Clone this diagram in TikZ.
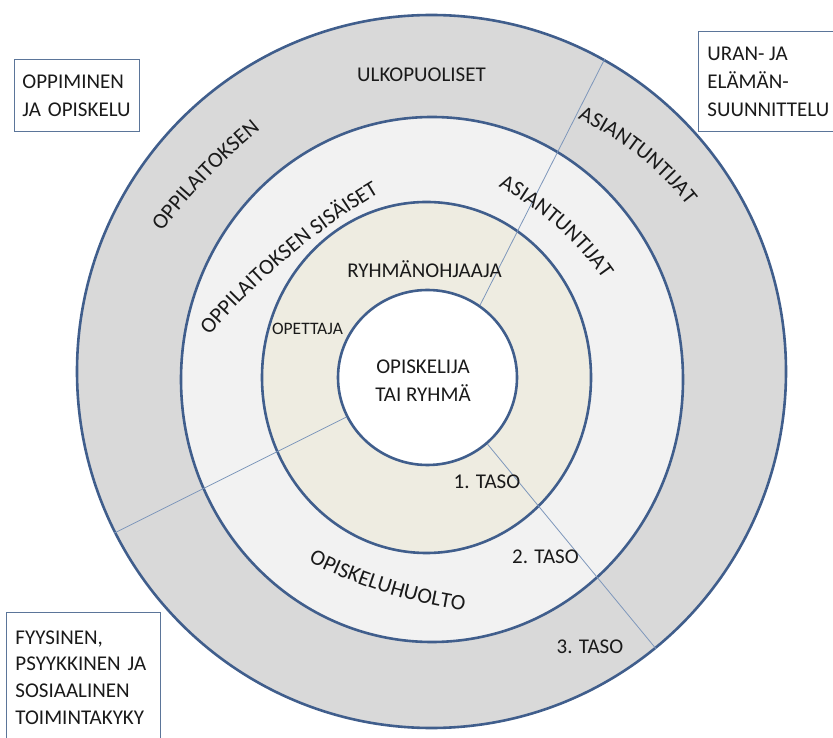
\documentclass[tikz,border=0pt]{standalone}
\usepackage{fontspec}
\setmainfont{Carlito}
\usetikzlibrary{calc, shapes.geometric, decorations.text}
\definecolor{ohline}{HTML}{405E8C}
\definecolor{ohthin}{HTML}{7E97BB}
\definecolor{ohboxline}{HTML}{5B7599}
\definecolor{ohgray}{HTML}{D9D9D9}
\definecolor{ohlight}{HTML}{F2F2F2}
\definecolor{ohbeige}{HTML}{EEECE1}
\definecolor{ohtext}{HTML}{1A1A1A}
\newcommand{\ohfont}{\fontsize{21}{28}\selectfont}
\newcommand{\ohcurvefont}{\fontsize{22}{28}\selectfont}
\tikzset{
  ohring/.style={ellipse, draw=ohline, line width=2.6pt, inner sep=0pt},
  ohdivider/.style={draw=ohthin, line width=0.8pt},
  ohbox/.style={rectangle, draw=ohboxline, line width=0.9pt, fill=white, align=left, anchor=north west, inner xsep=9pt, font=\ohfont, text=ohtext},
  ohlabel/.style={font=\ohfont, text=ohtext, inner sep=0pt, anchor=base},
  ohcurve/.style={decorate, decoration={text along path, text align=center, text={|\ohcurvefont\color{ohtext}|#1}}},
}

\begin{document}
\begin{tikzpicture}[x=1pt, y=1pt]
  \useasboundingbox (0,0) rectangle (833,737);

  % Rings, outermost first.
  \node[ohring, fill=ohgray, minimum width=709pt, minimum height=713pt] (outer) at (431.5,365.5) {};
  \node[ohring, fill=ohlight, minimum width=502pt, minimum height=525pt] (middle) at (432,357.5) {};
  \node[ohring, fill=ohbeige, minimum width=329pt, minimum height=351pt] (level1) at (426.5,359.5) {};
  \node[ohring, fill=white, minimum width=179pt, minimum height=175pt] (core) at (427.5,359.5) {};

  % Sector lines.
  \draw[ohdivider] (core.54.2) -- (outer.61.2);
  \draw[ohdivider] (core.206.7) -- (outer.207.5);
  \draw[ohdivider] (core.312) -- (outer.309.6);

  % Straight labels.
  \node[ohlabel] (ulkopuoliset) at (421.5,655.7) {ULKOPUOLISET};
  \node[ohlabel] (ryhma) at (424.5,459.5) {RYHMÄNOHJAAJA};
  \node[ohlabel, font=\fontsize{17.5}{21}\selectfont] (opettaja) at (307.5,402) {OPETTAJA};
  \node[font=\fontsize{21}{28.4}\selectfont, text=ohtext, inner sep=0pt, align=center] (opiskelija) at (423,356.2) {OPISKELIJA\\TAI RYHMÄ};
  \node[ohlabel] (taso1) at (487,248.7) {1. TASO};
  \node[ohlabel] (taso2) at (545.5,173.7) {2. TASO};
  \node[ohlabel] (taso3) at (590,83.7) {3. TASO};

  % Curved labels: centre of each arch.
  \coordinate (archa) at ($(203,564)+(-44:600)$);
  \coordinate (archb) at ($(642,587)+(-128.3:300)$);
  \coordinate (archc) at ($(284,485)+(-50:700)$);
  \coordinate (archd) at ($(561,515.5)+(-131.5:300)$);
  \coordinate (arche) at ($(386.5,151.3)+(72.6:500)$);
  \path[ohcurve={OPPILAITOKSEN}] ($(archa)+(151:592.9)$) arc[start angle=151, end angle=121, radius=592.9];
  \path[ohcurve={ASIANTUNTIJAT}] ($(archb)+(76.7:292.9)$) arc[start angle=76.7, end angle=26.7, radius=292.9];
  \path[ohcurve={OPPILAITOKSEN SISÄISET}] ($(archc)+(142:692.9)$) arc[start angle=142, end angle=118, radius=692.9];
  \path[ohcurve={ASIANTUNTIJAT}] ($(archd)+(73.5:292.9)$) arc[start angle=73.5, end angle=23.5, radius=292.9];
  \path[ohcurve={OPISKELUHUOLTO}] ($(arche)+(-127.4:507.1)$) arc[start angle=-127.4, end angle=-87.4, radius=507.1];

  % Corner boxes.
  \node[ohbox, text width=109pt, inner xsep=8pt, minimum height=72pt] (oppiminen) at (14,678) {OPPIMINEN\\JA OPISKELU};
  \node[ohbox, minimum height=100pt] (ura) at (698,706) {URAN- JA\\ELÄMÄN-\\SUUNNITTELU};
  \node[ohbox, text width=136pt, inner ysep=18pt, font=\fontsize{21}{26.7}\selectfont] (toimintakyky) at (6,125) {FYYSINEN,\\PSYYKKINEN JA\\SOSIAALINEN\\TOIMINTAKYKY};
\end{tikzpicture}
\end{document}
